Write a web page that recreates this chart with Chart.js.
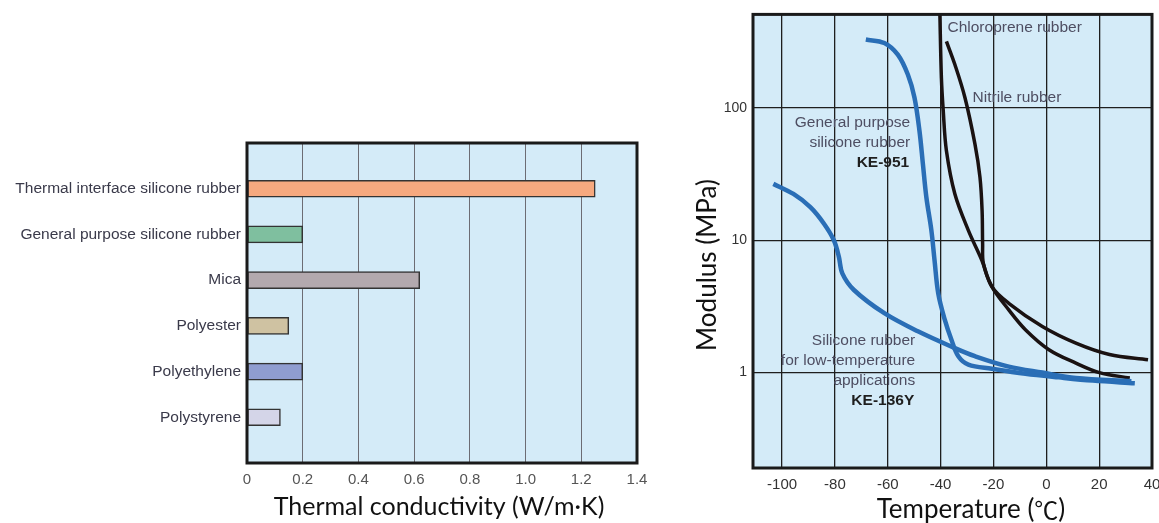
<!DOCTYPE html>
<html>
<head>
<meta charset="utf-8">
<script src="https://cdn.jsdelivr.net/npm/chart.js@4"></script>
<style>
  body { margin: 0; background: #fff; }
  #wrap { position: relative; width: 1159px; height: 523px; overflow: hidden; }
  canvas { position: absolute; top: 0; }
  #barChart { left: 0; }
  #lineChart { left: 680px; }
</style>
</head>
<body>
<div id="wrap">
  <canvas id="barChart" width="660" height="523"></canvas>
  <canvas id="lineChart" width="479" height="523"></canvas>
</div>
<script>
// left chart: thermal conductivity
const categories = ['Thermal interface silicone rubber', 'General purpose silicone rubber', 'Mica', 'Polyester', 'Polyethylene', 'Polystyrene'];
const conductivity = [1.25, 0.2, 0.62, 0.15, 0.2, 0.12];
const barColors = ['#f6a97f', '#7fbf9f', '#b3a9ae', '#cfc2a2', '#8f9dd0', '#d4d5e8'];
const conductivityTicks = [0, 0.2, 0.4, 0.6, 0.8, 1.0, 1.2, 1.4];

// right chart: modulus vs temperature
const tempTicks = [-100, -80, -60, -40, -20, 0, 20, 40];
const modulusTicks = [1, 10, 100];
const chloroTemp = [-40.3, -39.7, -39.0, -37.8, -34.6, -29.5, -24.4, -20.6, -14.2, -1.5, 11.2, 23.9, 38.5];
const chloroModulus = [540, 169, 95, 47.5, 22.4, 11.9, 7.07, 4.46, 3.34, 2.23, 1.67, 1.37, 1.25];
const nitrileTemp = [-37.8, -34.6, -30.8, -27.0, -25.1, -24.3, -24.1, -23.8, -20.6, -14.2, -7.9, 1.0, 11.2, 20.1, 31.6];
const nitrileModulus = [319, 213, 120, 53.3, 29.9, 16.8, 9.44, 6.68, 4.46, 2.98, 2.11, 1.49, 1.18, 1.0, 0.91];
const ke951Temp = [-68.3, -61.3, -56.2, -52.4, -49.9, -48.0, -46.7, -45.4, -43.5, -42.3, -40.9, -38.4, -35.9, -33.3, -29.5, -20.6, -7.9, 4.8, 17.6, 33.5];
const ke951Modulus = [329, 310, 253, 179, 120, 67.2, 37.7, 21.2, 11.9, 7.07, 3.97, 2.5, 1.77, 1.33, 1.15, 1.07, 0.98, 0.92, 0.87, 0.83];
const ke136yTemp = [-103.3, -95.7, -89.3, -84.2, -80.4, -78.5, -77.2, -72.8, -61.3, -48.6, -34.6, -27.0, -14.2, -1.5, 11.2, 32.2];
const ke136yModulus = [26.7, 22.4, 17.8, 13.4, 10, 7.49, 5.62, 4.21, 2.81, 2.05, 1.53, 1.33, 1.11, 1.0, 0.91, 0.86];

const curveNotes = [
    { lines: ['Chloroprene rubber'], x: -37.4, y: 402, align: 'left' },
    { lines: ['Nitrile rubber'], x: -27.9, y: 119.5, align: 'left' },
    { lines: ['General purpose', 'silicone rubber'], x: -51.5, y: 77.1, align: 'right', bold: 'KE-951' },
    { lines: ['Silicone rubber', 'for low-temperature', 'applications'], x: -49.6, y: 1.75, align: 'right', bold: 'KE-136Y' }
];

const toPoints = (xs, ys) => xs.map((x, i) => ({ x: x, y: ys[i] }));

const titleFont = '26px Lato, "Noto Sans", sans-serif';
const cjkFont = '24px "Noto Sans CJK JP", sans-serif';

// light blue plot background, frame and axis titles
const framePlugin = {
    id: 'frame',
    beforeDraw(chart, args, opts) {
        const a = chart.chartArea, ctx = chart.ctx;
        ctx.save();
        ctx.fillStyle = opts.background;
        ctx.fillRect(a.left, a.top, a.right - a.left, a.bottom - a.top);
        ctx.restore();
    },
    afterDraw(chart, args, opts) {
        const a = chart.chartArea, ctx = chart.ctx;
        ctx.save();
        ctx.strokeStyle = opts.borderColor;
        ctx.lineWidth = opts.borderWidth;
        ctx.strokeRect(a.left, a.top, a.right - a.left, a.bottom - a.top);
        (opts.titles || []).forEach(t => {
            ctx.save();
            ctx.fillStyle = t.color;
            ctx.textAlign = 'left';
            ctx.textBaseline = 'middle';
            ctx.translate(t.x, t.y);
            if (t.rotate) ctx.rotate(t.rotate);
            // title may be made of pieces in different fonts
            const widths = t.parts.map(p => { ctx.font = p.font; return ctx.measureText(p.text).width; });
            let x = -widths.reduce((s, w) => s + w, 0) / 2;
            t.parts.forEach((p, i) => {
                ctx.font = p.font;
                ctx.fillText(p.text, x, 0);
                x += widths[i];
            });
            ctx.restore();
        });
        ctx.restore();
    }
};

const notesPlugin = {
    id: 'notes',
    afterDatasetsDraw(chart) {
        const ctx = chart.ctx, xs = chart.scales.x, ys = chart.scales.y;
        ctx.save();
        ctx.textBaseline = 'middle';
        curveNotes.forEach(n => {
            const px = xs.getPixelForValue(n.x);
            let py = ys.getPixelForValue(n.y);
            ctx.textAlign = n.align;
            ctx.fillStyle = '#4e4e62';
            ctx.font = '15.5px "Liberation Sans", Arial, sans-serif';
            n.lines.forEach(line => {
                ctx.fillText(line, px, py);
                py += 20;
            });
            if (n.bold) {
                ctx.fillStyle = '#1e1e1e';
                ctx.font = 'bold 15.5px "Liberation Sans", Arial, sans-serif';
                ctx.fillText(n.bold, px - 1, py);
            }
        });
        ctx.restore();
    }
};

const noEdgePadding = s => { s.paddingLeft = 0; s.paddingRight = 0; };

new Chart(document.getElementById('barChart'), {
    type: 'bar',
    data: {
        labels: [''].concat(categories, ['']),
        datasets: [{
            data: [null].concat(conductivity, [null]),
            backgroundColor: [null].concat(barColors, [null]),
            borderColor: '#333',
            borderWidth: 1.5,
            borderSkipped: false,
            barThickness: 17
        }]
    },
    options: {
        indexAxis: 'y',
        responsive: false,
        animation: false,
        layout: { padding: { top: 143, right: 23, left: 0, bottom: 0 } },
        plugins: {
            legend: { display: false },
            tooltip: { enabled: false },
            frame: {
                background: '#d4ebf8',
                borderColor: '#1a1a1a',
                borderWidth: 3,
                titles: [{ parts: [{ text: 'Thermal conductivity (W/m·K)', font: '25px Lato, "Noto Sans", sans-serif' }], x: 439, y: 507, color: '#111' }]
            }
        },
        scales: {
            x: {
                min: 0,
                max: 1.4,
                afterFit: s => { s.height = 60; noEdgePadding(s); },
                afterBuildTicks: s => { s.ticks = conductivityTicks.map(v => ({ value: v })); },
                grid: { color: '#6c6c74', lineWidth: 1, drawTicks: false },
                border: { display: false },
                ticks: {
                    padding: 8,
                    color: '#555',
                    font: { family: '"Liberation Sans", Arial, sans-serif', size: 15 },
                    callback: v => v === 0 ? '0' : v.toFixed(1)
                }
            },
            y: {
                offset: false,
                afterFit: s => { s.width = 247; },
                grid: { display: false, drawTicks: false },
                border: { display: false },
                ticks: {
                    padding: 6,
                    color: '#3a3a4a',
                    autoSkip: false,
                    font: { family: '"Liberation Sans", Arial, sans-serif', size: 15.5 }
                }
            }
        }
    },
    plugins: [framePlugin]
});

const blue = '#2a6eb6';
const black = '#1a1212';

new Chart(document.getElementById('lineChart'), {
    type: 'line',
    data: {
        datasets: [
            { data: toPoints(ke136yTemp, ke136yModulus), borderColor: blue, borderWidth: 4.5 },
            { data: toPoints(ke951Temp, ke951Modulus), borderColor: blue, borderWidth: 4.5 },
            { data: toPoints(chloroTemp, chloroModulus), borderColor: black, borderWidth: 3.5 },
            { data: toPoints(nitrileTemp, nitrileModulus), borderColor: black, borderWidth: 3.5 }
        ]
    },
    options: {
        responsive: false,
        animation: false,
        elements: { point: { radius: 0 }, line: { tension: 0.35, fill: false } },
        layout: { padding: { top: 13, right: 7, left: 0, bottom: 0 } },
        plugins: {
            legend: { display: false },
            tooltip: { enabled: false },
            frame: {
                background: '#d4ebf8',
                borderColor: '#1a1a1a',
                borderWidth: 3,
                titles: [
                    { parts: [{ text: 'Temperature (', font: titleFont }, { text: '℃', font: cjkFont }, { text: ')', font: titleFont }], x: 291, y: 510, color: '#111' },
                    { parts: [{ text: 'Modulus (MPa)', font: titleFont }], x: 28, y: 265, rotate: -Math.PI / 2, color: '#111' }
                ]
            }
        },
        scales: {
            x: {
                type: 'linear',
                min: -111,
                max: 40,
                afterFit: s => { s.height = 55; noEdgePadding(s); },
                afterBuildTicks: s => { s.ticks = tempTicks.map(v => ({ value: v })); },
                grid: { color: '#1e1e1e', lineWidth: 1.3, drawTicks: false },
                border: { display: false },
                ticks: {
                    padding: 8,
                    color: '#333',
                    font: { family: '"Liberation Sans", Arial, sans-serif', size: 15 },
                    callback: v => String(v)
                }
            },
            y: {
                type: 'logarithmic',
                min: 0.19,
                max: 510,
                afterFit: s => { s.width = 73; },
                afterBuildTicks: s => { s.ticks = modulusTicks.map(v => ({ value: v })); },
                grid: { color: '#1e1e1e', lineWidth: 1.3, drawTicks: false },
                border: { display: false },
                ticks: {
                    padding: 6,
                    color: '#333',
                    font: { family: '"Liberation Sans", Arial, sans-serif', size: 14 },
                    callback: v => String(v)
                }
            }
        }
    },
    plugins: [framePlugin, notesPlugin]
});
</script>
</body>
</html>
